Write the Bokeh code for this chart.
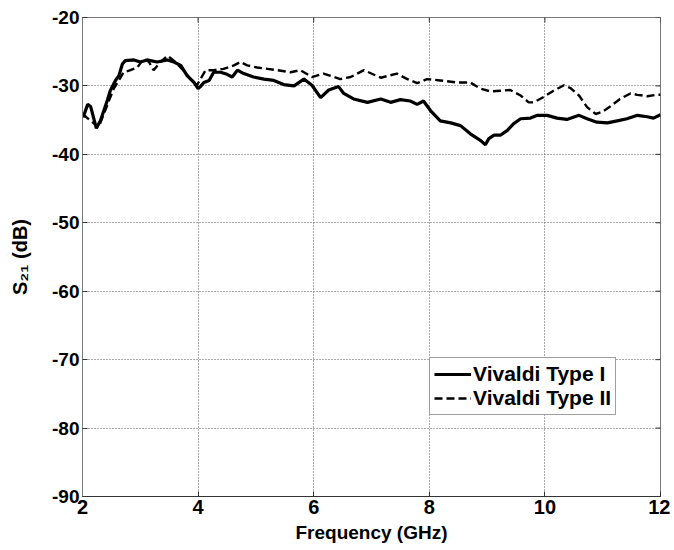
from bokeh.plotting import figure
from bokeh.models import Range1d, FixedTicker, Legend, LegendItem
from bokeh.embed import file_html
from bokeh.resources import INLINE

# ---- data ----
freq_type1 = [2.01, 2.09, 2.14, 2.24, 2.31, 2.43, 2.48, 2.57, 2.63, 2.69, 2.74, 2.89, 3.00, 3.12,
              3.29, 3.47, 3.58, 3.70, 3.81, 3.93, 4.00, 4.04, 4.10, 4.19, 4.27, 4.39, 4.50, 4.59,
              4.68, 4.79, 4.96, 5.14, 5.31, 5.48, 5.66, 5.83, 5.97, 6.12, 6.26, 6.43, 6.52, 6.69,
              6.93, 7.16, 7.33, 7.50, 7.67, 7.79, 7.90, 8.02, 8.19, 8.37, 8.54, 8.71, 8.89, 8.97,
              9.03, 9.12, 9.23, 9.35, 9.46, 9.58, 9.75, 9.87, 10.04, 10.21, 10.38, 10.59, 10.73,
              10.90, 11.08, 11.25, 11.42, 11.60, 11.77, 11.88, 12.00]
s21_type1 = [-34.6, -32.7, -33.0, -36.2, -35.1, -32.1, -30.7, -29.2, -28.5, -26.8, -26.3, -26.2, -26.5, -26.2,
             -26.5, -26.2, -26.5, -27.0, -28.5, -29.5, -30.4, -30.1, -29.5, -29.2, -28.0, -28.0, -28.3, -28.7,
             -27.7, -28.2, -28.7, -29.0, -29.2, -29.8, -30.0, -29.0, -29.9, -31.7, -30.6, -30.1, -31.1, -31.9,
             -32.4, -31.9, -32.4, -32.0, -32.2, -32.7, -32.2, -33.6, -35.1, -35.4, -35.8, -37.0, -38.0, -38.6,
             -37.7, -37.2, -37.2, -36.5, -35.5, -34.8, -34.7, -34.3, -34.3, -34.7, -34.9, -34.3, -34.8,
             -35.3, -35.4, -35.1, -34.8, -34.3, -34.5, -34.7, -34.2]

freq_type2 = [2.01, 2.07, 2.20, 2.28, 2.37, 2.46, 2.54, 2.63, 2.71, 2.83, 2.95, 3.06, 3.15, 3.23, 3.35,
              3.47, 3.58, 3.72, 3.87, 3.98, 4.04, 4.13, 4.27, 4.44, 4.62, 4.73, 4.85, 5.02, 5.20, 5.37,
              5.60, 5.77, 5.97, 6.17, 6.35, 6.46, 6.64, 6.87, 7.16, 7.44, 7.62, 7.79, 7.96, 8.19, 8.48,
              8.71, 8.89, 9.06, 9.23, 9.40, 9.58, 9.72, 9.81, 9.98, 10.15, 10.33, 10.44, 10.59, 10.73,
              10.88, 10.99, 11.13, 11.30, 11.48, 11.60, 11.77, 11.94, 12.00]
s21_type2 = [-34.1, -34.6, -35.5, -36.0, -34.1, -32.1, -30.4, -29.2, -28.0, -27.7, -27.3, -26.0, -26.5, -27.7, -26.5,
             -25.6, -26.3, -27.5, -29.0, -29.9, -29.0, -27.7, -27.7, -27.5, -27.0, -26.5, -27.0, -27.3, -27.5, -27.7,
             -28.0, -27.7, -28.7, -28.2, -28.7, -29.0, -28.7, -27.7, -28.8, -28.2, -29.0, -29.6, -29.0, -29.2, -29.5,
             -29.5, -30.4, -30.8, -30.7, -30.6, -31.4, -32.4, -32.4, -31.6, -30.7, -29.9, -30.3, -31.4, -33.1,
             -34.1, -33.8, -33.0, -31.9, -31.1, -31.3, -31.5, -31.3, -31.3]

series_labels = ["Vivaldi Type I", "Vivaldi Type II"]
x_ticks = [2, 4, 6, 8, 10, 12]
y_ticks = [-90, -80, -70, -60, -50, -40, -30, -20]
y_tick_labels = ["-90", "-80", "-70", "-60", "-50", "-40", "-30", "-20"]
x_label = "Frequency (GHz)"
y_label = "S\u2082\u2081 (dB)"

# ---- styling ----
FONT = "'Liberation Sans', Arial, sans-serif"
FRAME_COLOR = "#7a7a7a"
TICK_COLOR = "#333333"

p = figure(frame_width=578, frame_height=479,
           x_range=Range1d(2, 12), y_range=Range1d(-90, -20),
           output_backend="svg", toolbar_location=None,
           min_border_left=82, min_border_top=17, min_border_right=10, min_border_bottom=50)
p.background_fill_color = "white"
p.border_fill_color = "white"
p.outline_line_color = FRAME_COLOR
p.outline_line_width = 1

# grid
for g in (p.xgrid, p.ygrid):
    g.grid_line_color = "#555555"
    g.grid_line_dash = "1 2"
    g.grid_line_width = 1
p.xgrid.ticker = FixedTicker(ticks=x_ticks)
p.ygrid.ticker = FixedTicker(ticks=y_ticks)

# bottom axis
xa = p.xaxis[0]
xa.ticker = FixedTicker(ticks=x_ticks)
xa.axis_label = x_label
xa.axis_label_text_font = FONT
xa.axis_label_text_font_style = "bold"
xa.axis_label_text_font_size = "19px"
xa.axis_label_text_color = "black"
xa.axis_label_standoff = 5
xa.major_label_text_font = FONT
xa.major_label_text_font_style = "bold"
xa.major_label_text_font_size = "20px"
xa.major_label_text_color = "black"
xa.major_label_standoff = 3
xa.major_tick_in = 5
xa.major_tick_out = 0
xa.minor_tick_line_color = None
xa.axis_line_color = TICK_COLOR
xa.major_tick_line_color = TICK_COLOR

# left axis
ya = p.yaxis[0]
ya.ticker = FixedTicker(ticks=y_ticks)
ya.major_label_overrides = {t: s for t, s in zip(y_ticks, y_tick_labels)}
ya.major_label_text_font = FONT
ya.major_label_text_font_style = "bold"
ya.major_label_text_font_size = "19px"
ya.major_label_text_color = "black"
ya.major_label_standoff = 3
ya.major_tick_in = 5
ya.major_tick_out = 0
ya.minor_tick_line_color = None
ya.axis_line_color = FRAME_COLOR
ya.major_tick_line_color = TICK_COLOR
ya.axis_label = y_label
ya.axis_label_text_font = FONT
ya.axis_label_text_font_style = "bold"
ya.axis_label_text_font_size = "20px"
ya.axis_label_text_color = "black"
ya.axis_label_standoff = 18

# inward ticks on the right and top edges (half of each dash is clipped by the frame)
p.scatter([12] * len(y_ticks), y_ticks, marker="dash", size=10, line_color=TICK_COLOR, line_width=1)
p.scatter(x_ticks, [-20] * len(x_ticks), marker="dash", angle=1.5708, size=10,
          line_color=TICK_COLOR, line_width=1)

# lines
r1 = p.line(freq_type1, s21_type1, line_color="black", line_width=3.2)
r2 = p.line(freq_type2, s21_type2, line_color="black", line_width=2.4, line_dash="8 4")

legend = Legend(items=[LegendItem(label=series_labels[0], renderers=[r1]),
                       LegendItem(label=series_labels[1], renderers=[r2])],
                location=(347, 81))
legend.label_text_font = FONT
legend.label_text_font_style = "bold"
legend.label_text_font_size = "21px"
legend.label_text_color = "black"
legend.glyph_width = 37
legend.glyph_height = 22
legend.label_height = 22
legend.label_standoff = 2
legend.padding = 4
legend.spacing = 0
legend.margin = 0
legend.border_line_color = "#404040"
legend.border_line_width = 1
legend.background_fill_color = "white"
legend.background_fill_alpha = 1
p.add_layout(legend, "center")

open("out.html", "w").write(file_html(p, INLINE))
